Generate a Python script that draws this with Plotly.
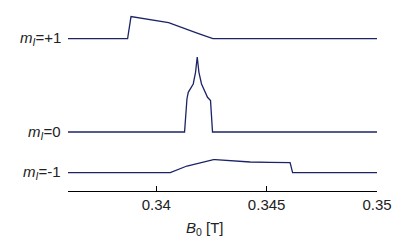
import plotly.graph_objects as go

# Field values (T) and intensities (arbitrary units) for each mI line
b_plus1 = [0.336, 0.338701, 0.338855, 0.340557, 0.341914, 0.342566, 0.35]
i_plus1 = [0, 0, 22, 16, 5, 0, 0]

b_zero = [0.336, 0.341281, 0.341389, 0.341448, 0.341674, 0.341778, 0.341855,
          0.341932, 0.342050, 0.342321, 0.342457, 0.342548, 0.35]
i_zero = [0, 0, 33, 39.7, 48, 59.7, 75, 59.7, 48, 34.7, 31.4, 0, 0]

b_minus1 = [0.336, 0.340557, 0.340633, 0.341389, 0.341991, 0.342593, 0.342670,
            0.343484, 0.344253, 0.345158, 0.346063, 0.346176, 0.35]
i_minus1 = [0, 0, 0, 6.6, 10, 13, 13, 11.6, 10.6, 10.3, 10, 0, 0]

labels = ["+1", "0", "-1"]
offsets = [152.4, 59, 18.4]

tick_vals = [0.34, 0.345, 0.35]
tick_text = ["0.34", "0.345", "0.35"]

line_color = "#1c2466"
font_family = "Liberation Sans, Arial, sans-serif"
text_color = "#222222"

fig = go.Figure()
for bs, ins, off in zip([b_plus1, b_zero, b_minus1], [i_plus1, i_zero, i_minus1], offsets):
    fig.add_trace(go.Scatter(x=bs, y=[v + off for v in ins], mode="lines",
                             line=dict(color=line_color, width=1.3),
                             showlegend=False, hoverinfo="skip"))

for lab, off in zip(labels, offsets):
    fig.add_annotation(x=0, xref="paper", y=off, yref="y",
                       text="<i>m</i><sub><i>I</i></sub>=" + lab,
                       xanchor="right", yanchor="middle", xshift=-5,
                       showarrow=False,
                       font=dict(family=font_family, size=15, color=text_color))

fig.add_annotation(x=(205 - 68) / 309, xref="paper", y=-0.195, yref="paper",
                   text="<i>B</i><sub>0</sub> [T]", xanchor="center", yanchor="middle",
                   showarrow=False,
                   font=dict(family=font_family, size=15, color=text_color))

fig.update_layout(
    width=397, height=240,
    margin=dict(l=68, r=20, t=0, b=49),
    paper_bgcolor="white", plot_bgcolor="white",
    xaxis=dict(range=[0.336, 0.35], showline=True, linecolor="black", linewidth=1,
               ticks="inside", ticklen=5, tickcolor="black",
               tickvals=tick_vals, ticktext=tick_text,
               showgrid=False, zeroline=False,
               tickfont=dict(family=font_family, size=15, color=text_color)),
    yaxis=dict(range=[0, 191], visible=False),
)

fig.write_html("out.html")
